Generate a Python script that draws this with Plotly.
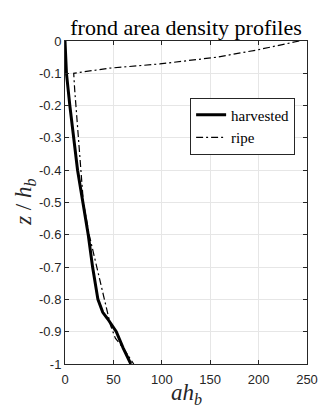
import plotly.graph_objects as go

# harvested profile (solid, thick)
z_harvested = [0, -0.05, -0.1, -0.2, -0.3, -0.4, -0.5, -0.6, -0.7, -0.8, -0.84, -0.86, -0.9, -0.95, -1.0]
a_harvested = [0, 0.5, 1.5, 5, 9, 13, 18.5, 24, 28.5, 34, 39, 44, 53, 60, 68]

# ripe profile (dash-dot)
z_ripe = [0, -0.028, -0.05, -0.071, -0.084, -0.098, -0.1, -0.15, -0.3, -0.4, -0.5, -0.6, -0.7, -0.8,
          -0.85, -0.88, -0.92, -0.95, -1.0]
a_ripe = [242, 198, 157, 98, 46, 12, 9, 10, 14, 16, 19, 25, 33, 41, 45, 47, 52, 60, 71]

x_ticks = [0, 50, 100, 150, 200, 250]
y_ticks = [0, -0.1, -0.2, -0.3, -0.4, -0.5, -0.6, -0.7, -0.8, -0.9, -1]
y_ticktext = ["0", "-0.1", "-0.2", "-0.3", "-0.4", "-0.5", "-0.6", "-0.7", "-0.8", "-0.9", "-1"]

serif = "Liberation Serif, Times New Roman, serif"
sans = "Liberation Sans, Arial, sans-serif"
axis_col = "#262626"

fig = go.Figure()

fig.add_trace(go.Scatter(
    x=a_harvested, y=z_harvested, mode="lines", name="harvested",
    line=dict(color="black", width=3)
))
fig.add_trace(go.Scatter(
    x=a_ripe, y=z_ripe, mode="lines", name="ripe",
    line=dict(color="black", width=1.2, dash="7px,3px,2px,3px")
))

axis_common = dict(
    showline=True, linecolor=axis_col, linewidth=1, mirror="ticks",
    ticks="inside", ticklen=4, tickcolor=axis_col,
    showgrid=True, gridcolor="#e6e6e6", gridwidth=1,
    zeroline=False, automargin=False,
    tickfont=dict(family=sans, size=13, color=axis_col),
)

fig.update_xaxes(range=[0, 250], tickvals=x_ticks, ticktext=[str(v) for v in x_ticks],
                 ticklabelstandoff=3, **axis_common)
fig.update_yaxes(range=[-1, 0], tickvals=y_ticks, ticktext=y_ticktext, **axis_common)

# axis titles as annotations so they sit where the reference has them
fig.add_annotation(
    text="<i>ah</i><sub><i>b</i></sub>", xref="paper", yref="paper",
    x=0.5, y=-0.092, xanchor="center", yanchor="middle", showarrow=False,
    font=dict(family=serif, size=23, color=axis_col)
)
fig.add_annotation(
    text="<i>z</i> / <i>h</i><sub><i>b</i></sub>", xref="paper", yref="paper",
    x=-0.168, y=0.5, xanchor="center", yanchor="middle", showarrow=False, textangle=-90,
    font=dict(family=serif, size=23, color=axis_col)
)

# page body adds an 8px margin, so the figure is a bit smaller than the window
fig.update_layout(
    width=324, height=405,
    margin=dict(l=57, r=25, t=33, b=49, autoexpand=False),
    paper_bgcolor="white", plot_bgcolor="white",
    title=dict(text="frond area density profiles", xref="paper", x=0.5, xanchor="center",
               y=0.952, yanchor="middle",
               font=dict(family=serif, size=22, color="black")),
    legend=dict(
        x=0.517, y=0.825, xanchor="left", yanchor="top",
        bgcolor="white", bordercolor=axis_col, borderwidth=1,
        font=dict(family=serif, size=15, color="black"),
        tracegroupgap=0, itemwidth=30,
    ),
    showlegend=True,
)

fig.write_html("out.html")
